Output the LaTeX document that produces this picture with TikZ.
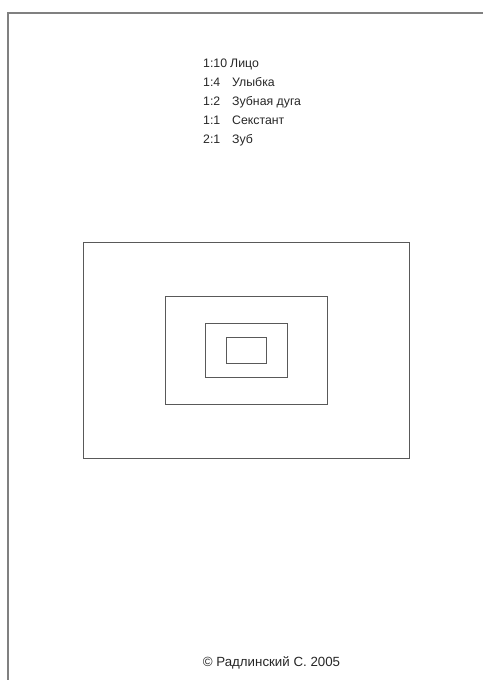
\documentclass[tikz,border=0pt]{standalone}
\usepackage{fontspec}
\setmainfont{Liberation Sans}
\usetikzlibrary{positioning}

\begin{document}
\begin{tikzpicture}[x=1pt,y=-1pt,
  frm/.style={draw=black!65,line width=0.9pt,inner sep=0pt},
  pg/.style={draw=black!50,line width=1.2pt},
  lbl/.style={anchor=base west,inner sep=0pt,text=black!85,font=\fontsize{12.3}{14}\selectfont},
  copy/.style={anchor=base,inner sep=0pt,text=black!85,font=\fontsize{13.3}{15}\selectfont}]
\useasboundingbox (0,0) rectangle (483,680);
% page edge
\coordinate (pgbl) at (8,680);
\coordinate (pgtl) at (8,13);
\coordinate (pgtr) at (483,13);
\draw[pg] (pgbl) -- (pgtl) -- (pgtr);
% scales
\node[lbl] (s1) at (203,67.5) {1:10};
\node[lbl] (s2) at (203,86) {1:4};
\node[lbl] (s3) at (203,105) {1:2};
\node[lbl] (s4) at (203,124) {1:1};
\node[lbl] (s5) at (203,143) {2:1};
\node[lbl] (t1) at (230,67.5) {Лицо};
\node[lbl] (t2) at (232,86) {Улыбка};
\node[lbl] (t3) at (232,105) {Зубная дуга};
\node[lbl] (t4) at (232,124) {Секстант};
\node[lbl] (t5) at (232,143) {Зуб};
% nested frames
\node[frm,minimum width=326pt,minimum height=216pt] (face) at (246,350) {};
\node[frm,minimum width=162pt,minimum height=108pt] (smile) at (246,350) {};
\node[frm,minimum width=82pt,minimum height=54pt] (arch) at (246,350) {};
\node[frm,minimum width=40pt,minimum height=26pt] (sext) at (246,350) {};
% footer
\node[copy] (cr) at (271.5,666) {© Радлинский С. 2005};
\end{tikzpicture}
\end{document}
